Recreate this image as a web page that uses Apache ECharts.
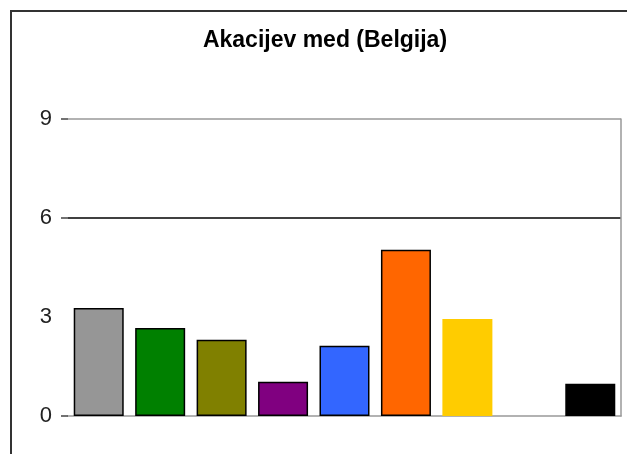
<!DOCTYPE html>
<html>
<head>
<meta charset="utf-8">
<script src="https://cdn.jsdelivr.net/npm/echarts@6/dist/echarts.min.js"></script>
<style>
  html, body { margin: 0; padding: 0; background: #fff; }
  #chart { width: 627px; height: 454px; }
</style>
</head>
<body>
<div id="chart"></div>
<script>
// podatki
var titleText = 'Akacijev med (Belgija)';
var categories = ['1', '2', '3', '4', '5', '6', '7', '8', '9'];
var values = [3.27, 2.67, 2.31, 1.04, 2.13, 5.04, 2.94, null, 0.98];
var barColors = ['#969696', '#008000', '#808000', '#800080', '#3366FF', '#FF6600', '#FFCC00', '#FFFFFF', '#000000'];
var yTicks = [0, 6, 9];

var chart = echarts.init(document.getElementById('chart'));

var barData = values.map(function (v, i) {
  return {
    value: v,
    itemStyle: {
      color: barColors[i],
      borderColor: i === 6 ? '#FFCC00' : '#000',
      borderWidth: i === 6 ? 0 : 1.5
    }
  };
});

chart.setOption({
  animation: false,
  backgroundColor: '#fff',
  title: {
    text: titleText,
    left: 325,
    textAlign: 'center',
    top: 29,
    padding: 0,
    textStyle: {
      color: '#000',
      fontFamily: 'Liberation Sans',
      fontWeight: 'bold',
      fontSize: 23
    }
  },
  graphic: [{
    type: 'rect',
    shape: { x: 11, y: 11, width: 700, height: 600 },
    style: { fill: 'none', stroke: '#333', lineWidth: 2 },
    silent: true
  }],
  grid: {
    left: 68,
    right: 6,
    top: 119,
    bottom: 38
  },
  xAxis: {
    type: 'category',
    data: categories,
    axisLine: { show: true, lineStyle: { color: '#999', width: 1.5 } },
    axisTick: { show: false },
    axisLabel: { show: false }
  },
  yAxis: [{
    type: 'value',
    min: 0,
    max: 9,
    interval: 3,
    axisLine: { show: false },
    axisTick: {
      show: true,
      length: 7,
      customValues: yTicks,
      lineStyle: { color: '#444', width: 1.5 }
    },
    axisLabel: {
      margin: 16,
      color: '#222',
      fontFamily: 'Liberation Sans',
      fontSize: 22
    },
    splitLine: {
      show: true,
      lineStyle: {
        // linije pri 3, 6, 9
        color: ['rgba(0,0,0,0)', '#000', '#999'],
        width: 1.5
      }
    }
  }, {
    type: 'value',
    position: 'right',
    min: 0,
    max: 9,
    interval: 3,
    axisLine: { show: true, lineStyle: { color: '#999', width: 1.5 } },
    axisTick: { show: false },
    axisLabel: { show: false },
    splitLine: { show: false }
  }],
  series: [{
    type: 'bar',
    data: barData,
    barWidth: 50
  }]
});
</script>
</body>
</html>
